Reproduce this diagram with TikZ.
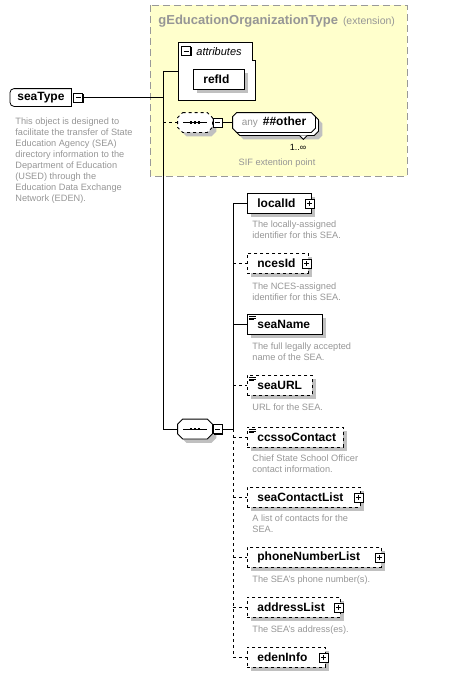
\documentclass[tikz,border=0pt]{standalone}
\usepackage{fontspec}
\setmainfont{Liberation Sans}
\usetikzlibrary{shadows}

\definecolor{extfill}{RGB}{255,255,204}
\definecolor{extline}{RGB}{153,153,153}
\definecolor{doctext}{RGB}{150,150,150}
\definecolor{boxshade}{RGB}{192,192,192}

\newcommand{\namefont}{\bfseries\fontsize{12}{14}\selectfont}
\newcommand{\docfont}{\fontsize{9.2}{11}\selectfont}

% octagon round a node: name, chamfer, path options
\newcommand{\octoutline}[3]{%
  \path[#3] ([xshift=#2]#1.north west) -- ([xshift=-#2]#1.north east) -- ([yshift=-#2]#1.north east)
    -- ([yshift=#2]#1.south east) -- ([xshift=-#2]#1.south east) -- ([xshift=#2]#1.south west)
    -- ([yshift=#2]#1.south west) -- ([yshift=-#2]#1.north west) -- cycle;}
% sequence mark inside a compositor node
\newcommand{\seqmark}[1]{%
  \draw[solid] ([xshift=-12pt]#1.center) -- ([xshift=12pt]#1.center);
  \foreach \d in {-4,0,4}
    \fill ([xshift={\d pt-1.3pt}, yshift=-1.3pt]#1.center) rectangle ++(2.6pt,2.6pt);}

\begin{document}
\begin{tikzpicture}[x=1pt, y=-1pt, line width=0.8pt,
  boxshadow/.style={drop shadow={shadow xshift=4pt, shadow yshift=-4pt, fill=boxshade, opacity=1}},
  elem/.style={draw, fill=white, anchor=north west, minimum height=20pt, inner xsep=10pt, inner ysep=0pt, align=left, font=\namefont, boxshadow},
  optelem/.style={elem, dashed},
  doc/.style={anchor=north west, inner sep=0pt, align=left, font=\docfont, text=doctext},
  iconbox/.style={draw, solid, fill=white, minimum size=9pt, inner sep=0pt, drop shadow={shadow xshift=1pt, shadow yshift=-1pt, fill=black, opacity=1}},
  minusbox/.style={iconbox, path picture={
    \draw ([xshift=-2.5pt]path picture bounding box.center) -- ([xshift=2.5pt]path picture bounding box.center);}},
  plusbox/.style={iconbox, path picture={
    \draw ([xshift=-2.5pt]path picture bounding box.center) -- ([xshift=2.5pt]path picture bounding box.center)
          ([yshift=-2.5pt]path picture bounding box.center) -- ([yshift=2.5pt]path picture bounding box.center);}},
  compositor/.style={minimum width=34pt, minimum height=19pt, inner sep=0pt},
  anybox/.style={minimum width=82pt, minimum height=19pt, inner sep=0pt},
  octshadow/.style={fill=boxshade, transform canvas={xshift=4pt, yshift=-4pt}}
]
\useasboundingbox (0,0) rectangle (448,677);

%Extension Drawing

\draw [extline, fill=extfill, dash pattern=on 7pt off 4pt] (150,5) rectangle (407,176);
\node [anchor=west, inner sep=0pt, text=doctext] (extTitle) at (158,21)
  {{\bfseries\fontsize{13}{15}\selectfont gEducationOrganizationType}\hspace{5pt}{\fontsize{10.5}{12}\selectfont(extension)}};

\draw [fill=white] (178,42) -- (252,42) -- (252,60) -- (255,60) -- (255,100) -- (178,100) -- cycle;
\node [minusbox] (attrsMinus) at (186,51) {};
\node [anchor=west, inner sep=0pt, font=\itshape\fontsize{11}{13}\selectfont] (attrsLabel) at (196,52) {attributes};
\node [elem, text width=31pt] (refId) at (193,69) {refId};

\node [compositor] (anySeq) at (195,122.5) {};
\octoutline{anySeq}{5pt}{octshadow}
\octoutline{anySeq}{5pt}{draw, dashed, fill=white}
\seqmark{anySeq}
\node [minusbox] (anySeqMinus) at (217.5,122.5) {};

\node [anybox] (anyOtherBack) at (277,125.5) {};
\octoutline{anyOtherBack}{4pt}{octshadow}
\octoutline{anyOtherBack}{4pt}{draw, fill=white}
\draw [fill=white] ([xshift=-19pt]anyOtherBack.south east) -- ++(4,4) -- ++(4,-4);
\node [anybox] (anyOther) at (274,122.5) {};
\octoutline{anyOther}{4pt}{draw, fill=white}
\node [inner sep=0pt] (anyOtherLabel) at (anyOther.center)
  {{\fontsize{10}{12}\selectfont\color{doctext}any}\hspace{5pt}{\namefont\#\#other}};
\node [font=\fontsize{9}{11}\selectfont, inner sep=0pt] (anyOtherMult) at (298,147) {1..∞};
\node [doc, anchor=north] (anyOtherDoc) at (277,158) {SIF extention point};

%Root Element

\node [draw=none, anchor=west, minimum width=61pt, minimum height=17pt, inner sep=0pt, font=\namefont] (seaType) at (10,97.5) {seaType};
\draw [rounded corners=4pt] (seaType.north east) -- (seaType.north west) -- (seaType.south west) -- (seaType.south east);
\draw (seaType.south east) -- (seaType.north east);
\node [minusbox] (seaTypeMinus) at ([xshift=6.5pt]seaType.east) {};
\node [doc] (seaTypeDoc) at (15,117) {This object is designed to\\facilitate the transfer of State\\Education Agency (SEA)\\directory information to the\\Department of Education\\(USED) through the\\Education Data Exchange\\Network (EDEN).};

%Sequence

\node [compositor] (mainSeq) at (195,429) {};
\octoutline{mainSeq}{5pt}{octshadow}
\octoutline{mainSeq}{5pt}{draw, fill=white}
\seqmark{mainSeq}
\node [minusbox] (mainSeqMinus) at (217.5,429) {};

%Child Elements

\node [elem, text width=44pt] (localId) at (247,193) {localId};
\node [plusbox] (localIdPlus) at ([xshift=-2pt]localId.east) {};
\node [doc] (localIdDoc) at (252,220) {The locally-assigned\\identifier for this SEA.};

\node [optelem, text width=41pt] (ncesId) at (247,253) {ncesId};
\node [plusbox] (ncesIdPlus) at ([xshift=-2pt]ncesId.east) {};
\node [doc] (ncesIdDoc) at (252,282) {The NCES-assigned\\identifier for this SEA.};

\node [elem, text width=55pt] (seaName) at (247,314) {seaName};
\node [doc] (seaNameDoc) at (252,342) {The full legally accepted\\name of the SEA.};

\node [optelem, text width=45pt] (seaURL) at (247,375) {seaURL};
\node [doc] (seaURLDoc) at (252,403) {URL for the SEA.};

\node [optelem, text width=76pt] (ccssoContact) at (247,427) {ccssoContact};
\node [doc] (ccssoContactDoc) at (252,454) {Chief State School Officer\\contact information.};

\node [optelem, text width=93pt] (seaContactList) at (247,487) {seaContactList};
\node [plusbox] (seaContactListPlus) at ([xshift=-2pt]seaContactList.east) {};
\node [doc] (seaContactListDoc) at (252,514) {A list of contacts for the\\SEA.};

\node [optelem, text width=114pt] (phoneNumberList) at (247,547) {phoneNumberList};
\node [plusbox] (phoneNumberListPlus) at ([xshift=-2pt]phoneNumberList.east) {};
\node [doc] (phoneNumberListDoc) at (252,575) {The SEA's phone number(s).};

\node [optelem, text width=73pt] (addressList) at (247,597) {addressList};
\node [plusbox] (addressListPlus) at ([xshift=-2pt]addressList.east) {};
\node [doc] (addressListDoc) at (252,625) {The SEA's address(es).};

\node [optelem, text width=58pt] (edenInfo) at (247,647) {edenInfo};
\node [plusbox] (edenInfoPlus) at ([xshift=-2pt]edenInfo.east) {};

%Simple-content marks

\foreach \el in {seaName, seaURL, ccssoContact}
  \draw [solid, line width=0.6pt] ([shift={(2pt,-2pt)}]\el.north west) -- ++(7,0)
        ([shift={(2pt,-3.8pt)}]\el.north west) -- ++(7,0)
        ([shift={(2pt,-5.6pt)}]\el.north west) -- ++(5,0);

%Connectors

\coordinate (trunkTop) at (163,71);
\coordinate (trunkBottom) at (163,429);
\coordinate (attrsIn) at (178,71);
\coordinate (childTrunk) at (233,429);

\draw (seaTypeMinus.east) -- (seaTypeMinus.east -| trunkTop);
\draw (trunkTop) -- (trunkBottom);
\draw (trunkTop) -- (attrsIn);
\draw [dashed] (trunkTop |- anySeq.west) -- (anySeq.west);
\draw (anySeqMinus.east) -- (anyOther.west);
\draw (trunkBottom) -- (mainSeq.west);
\draw (mainSeqMinus.east) -- (childTrunk);
\draw (childTrunk |- localId.west) -- (childTrunk);
\draw [dashed] (childTrunk) -- (childTrunk |- edenInfo.west);

\draw (childTrunk |- localId.west) -- (localId.west);
\draw (childTrunk |- seaName.west) -- (seaName.west);
\foreach \el in {ncesId, seaURL, ccssoContact, seaContactList, phoneNumberList, addressList, edenInfo}
  \draw [dashed] (childTrunk |- \el.west) -- (\el.west);

\end{tikzpicture}
\end{document}
